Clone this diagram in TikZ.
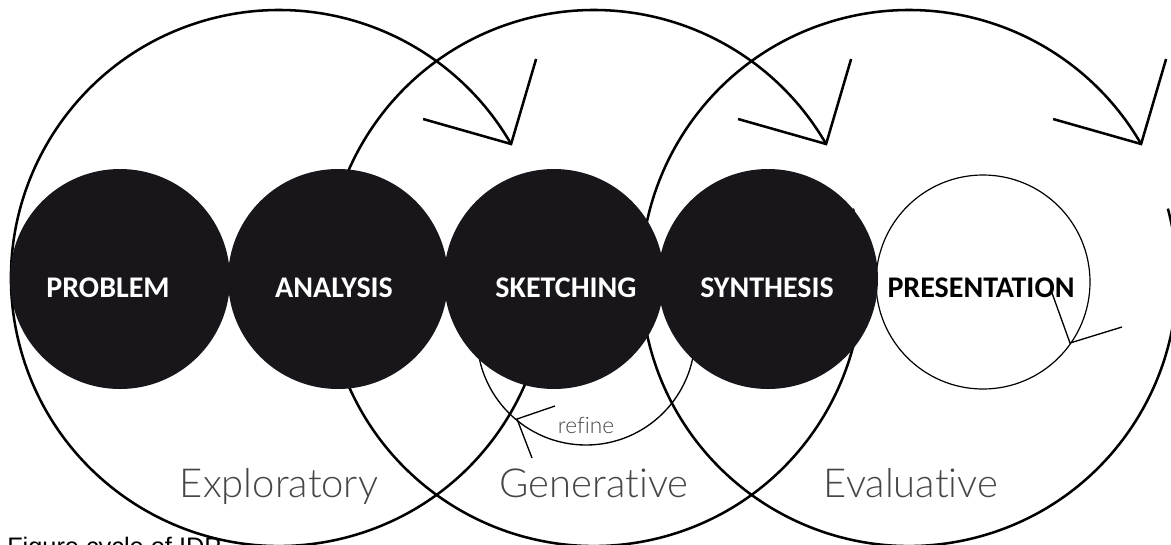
\documentclass[tikz,border=0pt]{standalone}
\usepackage{fontspec}
\setmainfont{Liberation Sans}
\newfontfamily\stagefont{Carlito}
\newfontfamily\phasefont{Lato Light}[Ligatures=NoCommon]
\usetikzlibrary{calc}

\definecolor{blobfill}{RGB}{24,22,27}
\definecolor{phasegray}{RGB}{70,70,70}

\tikzset{
  bigloop/.style={draw=black, line width=1.9pt},
  thinloop/.style={draw=black, line width=1pt},
  blob/.style={circle, fill=blobfill, inner sep=0pt, minimum size=165pt},
  openblob/.style={circle, draw=black, line width=0.9pt, inner sep=0pt, minimum size=160.5pt},
  stagetext/.style={anchor=base, inner sep=0pt, font=\stagefont\bfseries\fontsize{22.5}{22.5}\selectfont},
  phaselabel/.style={anchor=base, inner sep=0pt, text=phasegray, font=\phasefont\fontsize{30}{30}\selectfont}
}

\begin{document}
\begin{tikzpicture}[x=0.75pt,y=0.75pt,yscale=-1,xscale=1]
\useasboundingbox (0,0) rectangle (1171,544);
\clip (0,0) rectangle (1171,544);

% centres of the three phase loops
\coordinate (cExp) at (279,278);
\coordinate (cGen) at (594,278);
\coordinate (cEva) at (909,278);

% phase loops with their open arrow heads
\foreach \c in {cExp,cGen,cEva}{
  \draw[bigloop] ($(\c)+(-15:268)$) arc[start angle=-15, end angle=330, radius=268];
  \draw[bigloop] ($(\c)+(-30:268)+(25,-85)$) -- ($(\c)+(-30:268)$) -- ($(\c)+(-30:268)+(-88,-25)$);
}

% refine loop
\coordinate (cRef) at (586,336);
\coordinate (tipRef) at (517,419);
\draw[thinloop] (cRef) circle[radius=109];
\draw[thinloop] ($(tipRef)+(38,-13)$) -- (tipRef) -- ($(tipRef)+(15,39)$);

% presentation loop
\node[openblob] (presentation) at (983,282) {};
\coordinate (tipPre) at (1070,343);
\draw[thinloop] ($(tipPre)+(-18,-50)$) -- (tipPre) -- ($(tipPre)+(52,-16)$);

% black stages
\foreach \x/\n in {120/problem,338/analysis,554/sketching,768/synthesis}
  \node[blob] (\n) at (\x,279) {};

% Text Node
\node[stagetext, text=white] (tProblem) at (108,297) {PROBLEM};
\node[stagetext, text=white] (tAnalysis) at (334,297) {ANALYSIS};
\node[stagetext, text=white] (tSketching) at (566,297) {SKETCHING};
\node[stagetext, text=white] (tSynthesis) at (767,297) {SYNTHESIS};
\node[stagetext, text=black] (tPresentation) at (981,297) {PRESENTATION};
\node[font=\phasefont\fontsize{17}{17}\selectfont, text=phasegray, anchor=base, inner sep=0pt] (tRefine) at (586,433) {refine};

% phase names
\node[phaselabel] (lExp) at (279,497) {Exploratory};
\node[phaselabel] (lGen) at (594,497) {Generative};
\node[phaselabel] (lEva) at (911,497) {Evaluative};

% caption, cut by the lower edge
\node[anchor=base west, inner sep=0pt, font=\fontsize{19}{19}\selectfont] (caption) at (7,555) {Figure cycle of IDP};

\end{tikzpicture}
\end{document}
